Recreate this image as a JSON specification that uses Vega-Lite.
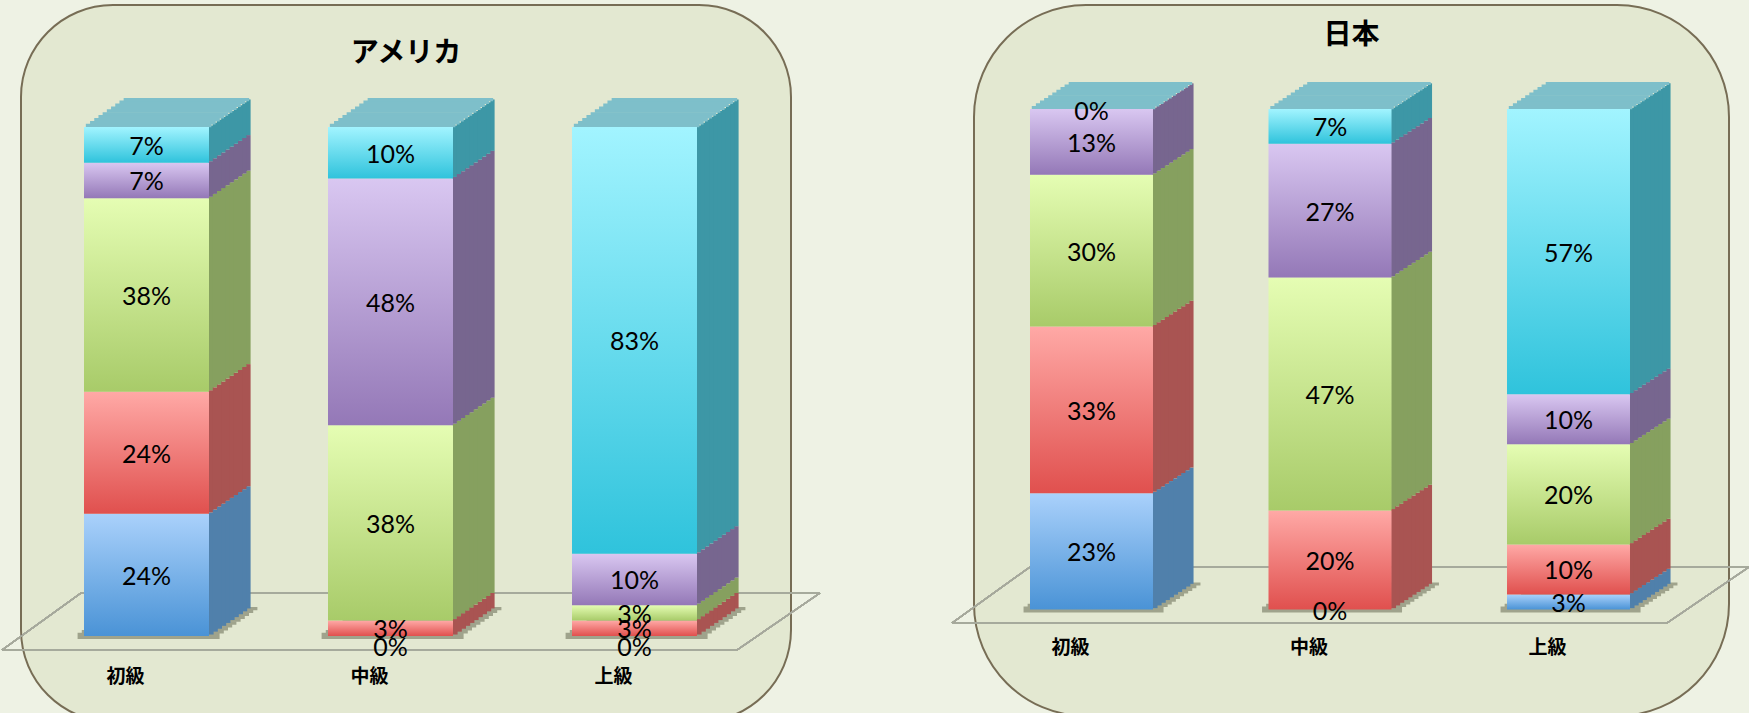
{
  "$schema": "https://vega.github.io/schema/vega-lite/v6.json",
  "background": "#eef2e4",
  "padding": {"left": 0, "top": 4, "right": 0, "bottom": 0},
  "bounds": "flush",
  "spacing": 183,
  "config": {
    "axisY": {"disable": true},
    "axisX": {"domain": false, "ticks": false, "tickSize": 0, "labelPadding": 0, "labelOffset": -21, "labelFont": "Noto Sans CJK JP", "labelFontSize": 19, "labelFontWeight": "bold", "labelColor": "#000000", "labelBaseline": "middle", "labelAngle": 0, "grid": false}
  },
  "data": {"values": [
    {"panel": "アメリカ", "level": "初級", "series": "1", "value": 0.24},
    {"panel": "アメリカ", "level": "初級", "series": "2", "value": 0.24},
    {"panel": "アメリカ", "level": "初級", "series": "3", "value": 0.38},
    {"panel": "アメリカ", "level": "初級", "series": "4", "value": 0.07},
    {"panel": "アメリカ", "level": "初級", "series": "5", "value": 0.07},
    {"panel": "アメリカ", "level": "中級", "series": "1", "value": 0},
    {"panel": "アメリカ", "level": "中級", "series": "2", "value": 0.03},
    {"panel": "アメリカ", "level": "中級", "series": "3", "value": 0.38},
    {"panel": "アメリカ", "level": "中級", "series": "4", "value": 0.48},
    {"panel": "アメリカ", "level": "中級", "series": "5", "value": 0.10},
    {"panel": "アメリカ", "level": "上級", "series": "1", "value": 0},
    {"panel": "アメリカ", "level": "上級", "series": "2", "value": 0.03},
    {"panel": "アメリカ", "level": "上級", "series": "3", "value": 0.03},
    {"panel": "アメリカ", "level": "上級", "series": "4", "value": 0.10},
    {"panel": "アメリカ", "level": "上級", "series": "5", "value": 0.83},
    {"panel": "日本", "level": "初級", "series": "1", "value": 0.23},
    {"panel": "日本", "level": "初級", "series": "2", "value": 0.33},
    {"panel": "日本", "level": "初級", "series": "3", "value": 0.30},
    {"panel": "日本", "level": "初級", "series": "4", "value": 0.13},
    {"panel": "日本", "level": "初級", "series": "5", "value": 0},
    {"panel": "日本", "level": "中級", "series": "1", "value": 0},
    {"panel": "日本", "level": "中級", "series": "2", "value": 0.20},
    {"panel": "日本", "level": "中級", "series": "3", "value": 0.47},
    {"panel": "日本", "level": "中級", "series": "4", "value": 0.27},
    {"panel": "日本", "level": "中級", "series": "5", "value": 0.07},
    {"panel": "日本", "level": "上級", "series": "1", "value": 0.03},
    {"panel": "日本", "level": "上級", "series": "2", "value": 0.10},
    {"panel": "日本", "level": "上級", "series": "3", "value": 0.20},
    {"panel": "日本", "level": "上級", "series": "4", "value": 0.10},
    {"panel": "日本", "level": "上級", "series": "5", "value": 0.57}
  ]},
  "hconcat": [
    {
      "width": 770,
      "height": 717,
      "view": {"fill": "#e3e8d1", "stroke": "#776d55", "strokeWidth": 2, "cornerRadius": 92},
      "title": {"text": "アメリカ", "font": "Noto Sans CJK JP", "fontSize": 28, "fontWeight": "bold", "color": "#000000", "offset": -76.7, "baseline": "middle", "frame": "group", "anchor": "middle"},
      "transform": [
        {"filter": "datum.panel == 'アメリカ'"},
        {"stack": "value", "groupby": ["level"], "sort": [{"field": "series", "order": "ascending"}], "offset": "normalize", "as": ["y0", "y1"]}
      ],
      "encoding": {
        "x": {"field": "level", "type": "nominal", "scale": {"domain": ["初級", "中級", "上級"], "range": [14.2, 724.8], "paddingInner": 0.4877, "paddingOuter": 0.2}, "axis": {"title": null, "offset": -46}}
      },
      "layer": [
        {"mark": {"type": "rule", "color": "#a6a99c", "strokeWidth": 1.2, "xOffset": -144.5, "x2Offset": 102.5, "yOffset": 14},
         "encoding": {"x": {"datum": "初級", "type": "nominal"}, "x2": {"datum": "上級"}, "y": {"datum": 0, "type": "quantitative", "scale": {"domain": [-0.169, 1.2397], "nice": false, "zero": false}}}},
        {"mark": {"type": "rule", "color": "#a6a99c", "strokeWidth": 1.2, "xOffset": -65.5, "x2Offset": 185.5, "yOffset": -43},
         "encoding": {"x": {"datum": "初級", "type": "nominal"}, "x2": {"datum": "上級"}, "y": {"datum": 0, "type": "quantitative"}}},
        {"mark": {"type": "rule", "color": "#a6a99c", "strokeWidth": 1.2, "xOffset": -65.5, "x2Offset": -144.5, "yOffset": -43, "y2Offset": 14},
         "encoding": {"x": {"datum": "初級", "type": "nominal"}, "x2": {"datum": "初級"}, "y": {"datum": 0, "type": "quantitative"}, "y2": {"datum": 0}}},
        {"mark": {"type": "rule", "color": "#a6a99c", "strokeWidth": 1.2, "xOffset": 185.5, "x2Offset": 102.5, "yOffset": -43, "y2Offset": 14},
         "encoding": {"x": {"datum": "上級", "type": "nominal"}, "x2": {"datum": "上級"}, "y": {"datum": 0, "type": "quantitative"}, "y2": {"datum": 0}}},
        {
          "transform": [{"filter": "datum.series == '1'"}],
          "encoding": {"y": {"field": "y0", "type": "quantitative"}, "y2": {"field": "y0"}},
          "layer": [
            {"mark": {"type": "bar", "color": "#9fa38c", "width": 142, "xOffset": 2.1, "yOffset": -3.2, "y2Offset": 3}},
            {"mark": {"type": "bar", "color": "#9fa38c", "width": 142, "xOffset": 6.3, "yOffset": -6.1, "y2Offset": -2.6}},
            {"mark": {"type": "bar", "color": "#9fa38c", "width": 142, "xOffset": 10.5, "yOffset": -9.0, "y2Offset": -5.5}},
            {"mark": {"type": "bar", "color": "#9fa38c", "width": 142, "xOffset": 14.7, "yOffset": -11.9, "y2Offset": -8.4}},
            {"mark": {"type": "bar", "color": "#9fa38c", "width": 142, "xOffset": 18.9, "yOffset": -14.8, "y2Offset": -11.3}},
            {"mark": {"type": "bar", "color": "#9fa38c", "width": 142, "xOffset": 23.1, "yOffset": -17.7, "y2Offset": -14.2}},
            {"mark": {"type": "bar", "color": "#9fa38c", "width": 142, "xOffset": 27.3, "yOffset": -20.6, "y2Offset": -17.1}},
            {"mark": {"type": "bar", "color": "#9fa38c", "width": 142, "xOffset": 31.5, "yOffset": -23.5, "y2Offset": -20.0}},
            {"mark": {"type": "bar", "color": "#9fa38c", "width": 142, "xOffset": 35.7, "yOffset": -26.4, "y2Offset": -22.9}},
            {"mark": {"type": "bar", "color": "#9fa38c", "width": 142, "xOffset": 39.9, "yOffset": -29.0, "y2Offset": -25.8}}
          ]
        },
        {
          "encoding": {
            "y": {"field": "y0", "type": "quantitative"},
            "y2": {"field": "y1"},
            "color": {"field": "series", "type": "nominal", "scale": {"domain": ["1", "2", "3", "4", "5"], "range": ["#5080ab", "#a95452", "#86a05f", "#77668f", "#3d97a6"]}, "legend": null}
          },
          "layer": [
            {"mark": {"type": "bar", "width": 5, "xOffset": 64.6, "yOffset": -1.45, "y2Offset": -1.45}},
            {"mark": {"type": "bar", "width": 5, "xOffset": 68.8, "yOffset": -4.35, "y2Offset": -4.35}},
            {"mark": {"type": "bar", "width": 5, "xOffset": 73.0, "yOffset": -7.25, "y2Offset": -7.25}},
            {"mark": {"type": "bar", "width": 5, "xOffset": 77.2, "yOffset": -10.15, "y2Offset": -10.15}},
            {"mark": {"type": "bar", "width": 5, "xOffset": 81.4, "yOffset": -13.05, "y2Offset": -13.05}},
            {"mark": {"type": "bar", "width": 5, "xOffset": 85.6, "yOffset": -15.95, "y2Offset": -15.95}},
            {"mark": {"type": "bar", "width": 5, "xOffset": 89.8, "yOffset": -18.85, "y2Offset": -18.85}},
            {"mark": {"type": "bar", "width": 5, "xOffset": 94.0, "yOffset": -21.75, "y2Offset": -21.75}},
            {"mark": {"type": "bar", "width": 5, "xOffset": 98.2, "yOffset": -24.65, "y2Offset": -24.65}},
            {"mark": {"type": "bar", "width": 4.2, "xOffset": 102.0, "yOffset": -27.55, "y2Offset": -27.55}}
          ]
        },
        {
          "transform": [{"filter": "datum.series == '5'"}],
          "encoding": {"y": {"field": "y1", "type": "quantitative"}, "y2": {"field": "y1"}},
          "layer": [
            {"mark": {"type": "bar", "color": "#7ebfca", "width": 125.5, "xOffset": 2.1, "yOffset": -3.2, "y2Offset": 0.3}},
            {"mark": {"type": "bar", "color": "#7ebfca", "width": 125.5, "xOffset": 6.3, "yOffset": -6.1, "y2Offset": -2.6}},
            {"mark": {"type": "bar", "color": "#7ebfca", "width": 125.5, "xOffset": 10.5, "yOffset": -9.0, "y2Offset": -5.5}},
            {"mark": {"type": "bar", "color": "#7ebfca", "width": 125.5, "xOffset": 14.7, "yOffset": -11.9, "y2Offset": -8.4}},
            {"mark": {"type": "bar", "color": "#7ebfca", "width": 125.5, "xOffset": 18.9, "yOffset": -14.8, "y2Offset": -11.3}},
            {"mark": {"type": "bar", "color": "#7ebfca", "width": 125.5, "xOffset": 23.1, "yOffset": -17.7, "y2Offset": -14.2}},
            {"mark": {"type": "bar", "color": "#7ebfca", "width": 125.5, "xOffset": 27.3, "yOffset": -20.6, "y2Offset": -17.1}},
            {"mark": {"type": "bar", "color": "#7ebfca", "width": 125.5, "xOffset": 31.5, "yOffset": -23.5, "y2Offset": -20.0}},
            {"mark": {"type": "bar", "color": "#7ebfca", "width": 125.5, "xOffset": 35.7, "yOffset": -26.4, "y2Offset": -22.9}},
            {"mark": {"type": "bar", "color": "#7ebfca", "width": 125.5, "xOffset": 39.9, "yOffset": -29.0, "y2Offset": -25.8}}
          ]
        },
        {
          "encoding": {"y": {"field": "y0", "type": "quantitative"}, "y2": {"field": "y1"}},
          "layer": [
            {"transform": [{"filter": "datum.series == '1'"}], "mark": {"type": "bar", "color": {"gradient": "linear", "x1": 0, "y1": 0, "x2": 0, "y2": 1, "stops": [{"offset": 0, "color": "#aad1fb"}, {"offset": 1, "color": "#4a93d6"}]}}},
            {"transform": [{"filter": "datum.series == '2'"}], "mark": {"type": "bar", "color": {"gradient": "linear", "x1": 0, "y1": 0, "x2": 0, "y2": 1, "stops": [{"offset": 0, "color": "#ffa9a6"}, {"offset": 1, "color": "#e0504e"}]}}},
            {"transform": [{"filter": "datum.series == '3'"}], "mark": {"type": "bar", "color": {"gradient": "linear", "x1": 0, "y1": 0, "x2": 0, "y2": 1, "stops": [{"offset": 0, "color": "#e5fdb3"}, {"offset": 1, "color": "#a8cb69"}]}}},
            {"transform": [{"filter": "datum.series == '4'"}], "mark": {"type": "bar", "color": {"gradient": "linear", "x1": 0, "y1": 0, "x2": 0, "y2": 1, "stops": [{"offset": 0, "color": "#d9c7f1"}, {"offset": 1, "color": "#9478b7"}]}}},
            {"transform": [{"filter": "datum.series == '5'"}], "mark": {"type": "bar", "color": {"gradient": "linear", "x1": 0, "y1": 0, "x2": 0, "y2": 1, "stops": [{"offset": 0, "color": "#a2f4ff"}, {"offset": 1, "color": "#2fc3dc"}]}}}
          ]
        },
        {
          "transform": [{"filter": "datum.value > 0"}],
          "mark": {"type": "text", "font": "Lato", "fontSize": 25, "color": "#000000", "baseline": "middle", "dy": 2},
          "encoding": {
            "y": {"field": "value", "type": "quantitative", "stack": "normalize", "bandPosition": 0.5},
            "order": {"field": "series", "sort": "ascending"},
            "detail": {"field": "series"},
            "text": {"field": "value", "type": "quantitative", "format": ".0%"}
          }
        },
        {
          "transform": [{"filter": "datum.value == 0"}],
          "mark": {"type": "text", "font": "Lato", "fontSize": 25, "color": "#000000", "baseline": "middle", "dy": 12},
          "encoding": {
            "y": {"field": "y0", "type": "quantitative"},
            "text": {"field": "value", "type": "quantitative", "format": ".0%"}
          }
        }
      ]
    },
    {
      "width": 755,
      "height": 711,
      "view": {"fill": "#e3e8d1", "stroke": "#776d55", "strokeWidth": 2, "cornerRadius": 112},
      "title": {"text": "日本", "font": "Noto Sans CJK JP", "fontSize": 28, "fontWeight": "bold", "color": "#000000", "offset": -59.3, "baseline": "middle", "frame": "group", "anchor": "middle"},
      "transform": [
        {"filter": "datum.panel == '日本'"},
        {"stack": "value", "groupby": ["level"], "sort": [{"field": "series", "order": "ascending"}], "offset": "normalize", "as": ["y0", "y1"]}
      ],
      "encoding": {
        "x": {"field": "level", "type": "nominal", "scale": {"domain": ["初級", "中級", "上級"], "range": [8.3, 703.7], "paddingInner": 0.4843, "paddingOuter": 0.2}, "axis": {"title": null, "offset": -69}}
      },
      "layer": [
        {"mark": {"type": "rule", "color": "#a6a99c", "strokeWidth": 1.2, "xOffset": -139.5, "x2Offset": 98.5, "yOffset": 13.5},
         "encoding": {"x": {"datum": "初級", "type": "nominal"}, "x2": {"datum": "上級"}, "y": {"datum": 0, "type": "quantitative", "scale": {"domain": [-0.2128, 1.2078], "nice": false, "zero": false}}}},
        {"mark": {"type": "rule", "color": "#a6a99c", "strokeWidth": 1.2, "xOffset": -61.5, "x2Offset": 180.5, "yOffset": -42.5},
         "encoding": {"x": {"datum": "初級", "type": "nominal"}, "x2": {"datum": "上級"}, "y": {"datum": 0, "type": "quantitative"}}},
        {"mark": {"type": "rule", "color": "#a6a99c", "strokeWidth": 1.2, "xOffset": -61.5, "x2Offset": -139.5, "yOffset": -42.5, "y2Offset": 13.5},
         "encoding": {"x": {"datum": "初級", "type": "nominal"}, "x2": {"datum": "初級"}, "y": {"datum": 0, "type": "quantitative"}, "y2": {"datum": 0}}},
        {"mark": {"type": "rule", "color": "#a6a99c", "strokeWidth": 1.2, "xOffset": 180.5, "x2Offset": 98.5, "yOffset": -42.5, "y2Offset": 13.5},
         "encoding": {"x": {"datum": "上級", "type": "nominal"}, "x2": {"datum": "上級"}, "y": {"datum": 0, "type": "quantitative"}, "y2": {"datum": 0}}},
        {
          "transform": [{"filter": "datum.series == '1'"}],
          "encoding": {"y": {"field": "y0", "type": "quantitative"}, "y2": {"field": "y0"}},
          "layer": [
            {"mark": {"type": "bar", "color": "#9fa38c", "width": 140, "xOffset": 2.05, "yOffset": -3.0, "y2Offset": 3}},
            {"mark": {"type": "bar", "color": "#9fa38c", "width": 140, "xOffset": 6.15, "yOffset": -5.7, "y2Offset": -2.4}},
            {"mark": {"type": "bar", "color": "#9fa38c", "width": 140, "xOffset": 10.25, "yOffset": -8.4, "y2Offset": -5.1}},
            {"mark": {"type": "bar", "color": "#9fa38c", "width": 140, "xOffset": 14.35, "yOffset": -11.1, "y2Offset": -7.8}},
            {"mark": {"type": "bar", "color": "#9fa38c", "width": 140, "xOffset": 18.45, "yOffset": -13.8, "y2Offset": -10.5}},
            {"mark": {"type": "bar", "color": "#9fa38c", "width": 140, "xOffset": 22.55, "yOffset": -16.5, "y2Offset": -13.2}},
            {"mark": {"type": "bar", "color": "#9fa38c", "width": 140, "xOffset": 26.65, "yOffset": -19.2, "y2Offset": -15.9}},
            {"mark": {"type": "bar", "color": "#9fa38c", "width": 140, "xOffset": 30.75, "yOffset": -21.9, "y2Offset": -18.6}},
            {"mark": {"type": "bar", "color": "#9fa38c", "width": 140, "xOffset": 34.85, "yOffset": -24.6, "y2Offset": -21.3}},
            {"mark": {"type": "bar", "color": "#9fa38c", "width": 140, "xOffset": 38.95, "yOffset": -27.0, "y2Offset": -24.0}}
          ]
        },
        {
          "encoding": {
            "y": {"field": "y0", "type": "quantitative"},
            "y2": {"field": "y1"},
            "color": {"field": "series", "type": "nominal", "scale": {"domain": ["1", "2", "3", "4", "5"], "range": ["#5080ab", "#a95452", "#86a05f", "#77668f", "#3d97a6"]}, "legend": null}
          },
          "layer": [
            {"mark": {"type": "bar", "width": 5, "xOffset": 63.55, "yOffset": -1.35, "y2Offset": -1.35}},
            {"mark": {"type": "bar", "width": 5, "xOffset": 67.65, "yOffset": -4.05, "y2Offset": -4.05}},
            {"mark": {"type": "bar", "width": 5, "xOffset": 71.75, "yOffset": -6.75, "y2Offset": -6.75}},
            {"mark": {"type": "bar", "width": 5, "xOffset": 75.85, "yOffset": -9.45, "y2Offset": -9.45}},
            {"mark": {"type": "bar", "width": 5, "xOffset": 79.95, "yOffset": -12.15, "y2Offset": -12.15}},
            {"mark": {"type": "bar", "width": 5, "xOffset": 84.05, "yOffset": -14.85, "y2Offset": -14.85}},
            {"mark": {"type": "bar", "width": 5, "xOffset": 88.15, "yOffset": -17.55, "y2Offset": -17.55}},
            {"mark": {"type": "bar", "width": 5, "xOffset": 92.25, "yOffset": -20.25, "y2Offset": -20.25}},
            {"mark": {"type": "bar", "width": 5, "xOffset": 96.35, "yOffset": -22.95, "y2Offset": -22.95}},
            {"mark": {"type": "bar", "width": 4.1, "xOffset": 100.0, "yOffset": -25.65, "y2Offset": -25.65}}
          ]
        },
        {
          "transform": [{"filter": "datum.series == '5'"}],
          "encoding": {"y": {"field": "y1", "type": "quantitative"}, "y2": {"field": "y1"}},
          "layer": [
            {"mark": {"type": "bar", "color": "#7ebfca", "width": 123.5, "xOffset": 2.05, "yOffset": -3.0, "y2Offset": 0.3}},
            {"mark": {"type": "bar", "color": "#7ebfca", "width": 123.5, "xOffset": 6.15, "yOffset": -5.7, "y2Offset": -2.4}},
            {"mark": {"type": "bar", "color": "#7ebfca", "width": 123.5, "xOffset": 10.25, "yOffset": -8.4, "y2Offset": -5.1}},
            {"mark": {"type": "bar", "color": "#7ebfca", "width": 123.5, "xOffset": 14.35, "yOffset": -11.1, "y2Offset": -7.8}},
            {"mark": {"type": "bar", "color": "#7ebfca", "width": 123.5, "xOffset": 18.45, "yOffset": -13.8, "y2Offset": -10.5}},
            {"mark": {"type": "bar", "color": "#7ebfca", "width": 123.5, "xOffset": 22.55, "yOffset": -16.5, "y2Offset": -13.2}},
            {"mark": {"type": "bar", "color": "#7ebfca", "width": 123.5, "xOffset": 26.65, "yOffset": -19.2, "y2Offset": -15.9}},
            {"mark": {"type": "bar", "color": "#7ebfca", "width": 123.5, "xOffset": 30.75, "yOffset": -21.9, "y2Offset": -18.6}},
            {"mark": {"type": "bar", "color": "#7ebfca", "width": 123.5, "xOffset": 34.85, "yOffset": -24.6, "y2Offset": -21.3}},
            {"mark": {"type": "bar", "color": "#7ebfca", "width": 123.5, "xOffset": 38.95, "yOffset": -27.0, "y2Offset": -24.0}}
          ]
        },
        {
          "encoding": {"y": {"field": "y0", "type": "quantitative"}, "y2": {"field": "y1"}},
          "layer": [
            {"transform": [{"filter": "datum.series == '1'"}], "mark": {"type": "bar", "color": {"gradient": "linear", "x1": 0, "y1": 0, "x2": 0, "y2": 1, "stops": [{"offset": 0, "color": "#aad1fb"}, {"offset": 1, "color": "#4a93d6"}]}}},
            {"transform": [{"filter": "datum.series == '2'"}], "mark": {"type": "bar", "color": {"gradient": "linear", "x1": 0, "y1": 0, "x2": 0, "y2": 1, "stops": [{"offset": 0, "color": "#ffa9a6"}, {"offset": 1, "color": "#e0504e"}]}}},
            {"transform": [{"filter": "datum.series == '3'"}], "mark": {"type": "bar", "color": {"gradient": "linear", "x1": 0, "y1": 0, "x2": 0, "y2": 1, "stops": [{"offset": 0, "color": "#e5fdb3"}, {"offset": 1, "color": "#a8cb69"}]}}},
            {"transform": [{"filter": "datum.series == '4'"}], "mark": {"type": "bar", "color": {"gradient": "linear", "x1": 0, "y1": 0, "x2": 0, "y2": 1, "stops": [{"offset": 0, "color": "#d9c7f1"}, {"offset": 1, "color": "#9478b7"}]}}},
            {"transform": [{"filter": "datum.series == '5'"}], "mark": {"type": "bar", "color": {"gradient": "linear", "x1": 0, "y1": 0, "x2": 0, "y2": 1, "stops": [{"offset": 0, "color": "#a2f4ff"}, {"offset": 1, "color": "#2fc3dc"}]}}}
          ]
        },
        {
          "transform": [{"filter": "datum.value > 0"}],
          "mark": {"type": "text", "font": "Lato", "fontSize": 25, "color": "#000000", "baseline": "middle", "dy": 2},
          "encoding": {
            "y": {"field": "value", "type": "quantitative", "stack": "normalize", "bandPosition": 0.5},
            "order": {"field": "series", "sort": "ascending"},
            "detail": {"field": "series"},
            "text": {"field": "value", "type": "quantitative", "format": ".0%"}
          }
        },
        {
          "transform": [{"filter": "datum.value == 0"}],
          "mark": {"type": "text", "font": "Lato", "fontSize": 25, "color": "#000000", "baseline": "middle", "dy": 3},
          "encoding": {
            "y": {"field": "y0", "type": "quantitative"},
            "text": {"field": "value", "type": "quantitative", "format": ".0%"}
          }
        }
      ]
    }
  ]
}
